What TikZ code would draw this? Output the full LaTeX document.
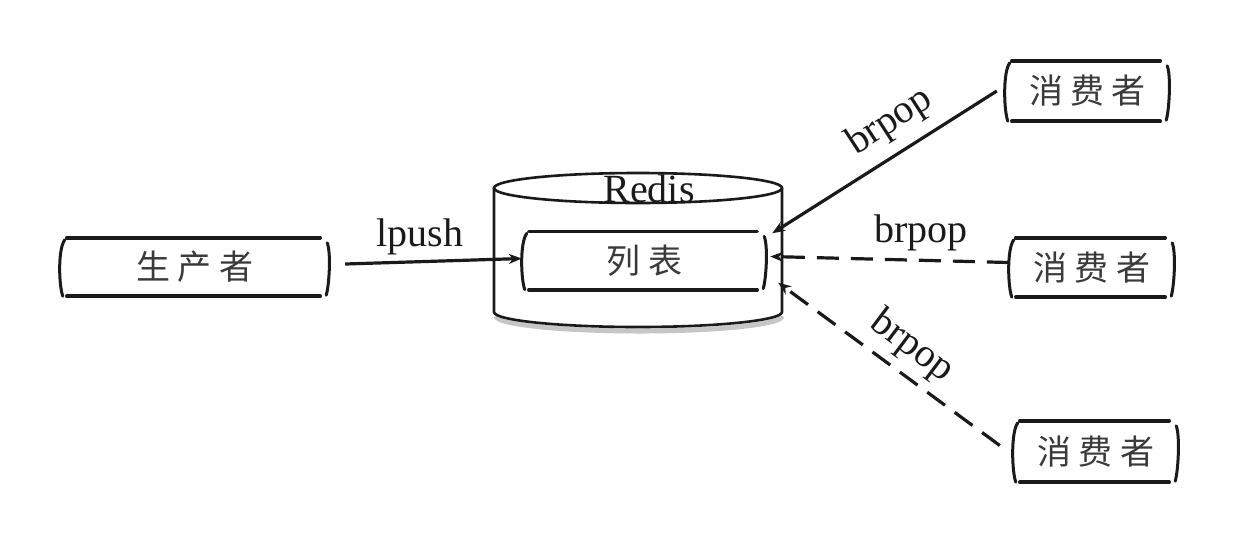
\documentclass[tikz,border=0pt]{standalone}
\usepackage{fontspec}
\newfontfamily\cjk[LetterSpace=22]{Noto Sans CJK SC}
\newfontfamily\latinfont{Liberation Serif}
\usetikzlibrary{arrows.meta}
\definecolor{ink}{HTML}{1A1A1A}
\definecolor{cjkink}{HTML}{3A3A3A}
\tikzset{
  boxline/.style={ink, line width=3.6pt, line cap=round},
  bracket/.style={ink, line width=3pt, line cap=round},
  cylline/.style={ink, line width=2.6pt},
  sbox/.style={draw=none, inner sep=0pt, font=\cjk\fontsize{34}{38}\selectfont, text=cjkink},
  lbl/.style={font=\latinfont\fontsize{40}{44}\selectfont, text=ink, inner sep=0pt},
  conn/.style={ink, line width=3.2pt, -{Stealth[length=13pt,width=10pt]}},
  dconn/.style={conn, dash pattern=on 22pt off 12pt},
}
\newcommand\sketchbox[1]{%
  \draw[boxline] ([xshift=7pt,yshift=-1pt]#1.north west) -- ([xshift=-10pt,yshift=-1pt]#1.north east);
  \draw[boxline] ([xshift=7pt,yshift=1pt]#1.south west) -- ([xshift=-10pt,yshift=1pt]#1.south east);
  \draw[bracket] ([xshift=5pt,yshift=-3pt]#1.north west) .. controls ([xshift=-2pt,yshift=-12pt]#1.north west) and ([xshift=-1pt,yshift=12pt]#1.south west) .. ([xshift=3pt,yshift=1pt]#1.south west);
  \draw[bracket] ([xshift=-3pt,yshift=-6pt]#1.north east) .. controls ([xshift=1pt,yshift=-16pt]#1.north east) and ([xshift=-1pt,yshift=12pt]#1.south east) .. ([xshift=-4pt,yshift=2pt]#1.south east);
}
\begin{document}
\begin{tikzpicture}[x=1pt,y=-1pt]
\useasboundingbox[fill=white] (0,0) rectangle (1258,542);

% cylinder (Redis)
\draw[gray!45, line width=5pt] (496,316) .. controls (496,324.3) and (561,331) .. (640,331) .. controls (719,331) and (782,324.3) .. (782,316);
\fill[white] (494,188) -- (494,312) .. controls (494,320.3) and (559,327) .. (638,327) .. controls (717,327) and (782,320.3) .. (782,312) -- (782,188) -- cycle;
\draw[cylline] (494,188) -- (494,312) .. controls (494,320.3) and (559,327) .. (638,327) .. controls (717,327) and (782,320.3) .. (782,312) -- (782,188);
\draw[cylline] (638,188) ellipse [x radius=144, y radius=15];
\node[lbl, anchor=base] (redislbl) at (649,202) {Redis};

% boxes
\node[sbox, minimum width=270pt, minimum height=60pt] (prod) at (195,267) {生产者};
\node[sbox, minimum width=245pt, minimum height=60pt] (list) at (644.5,260.5) {列表};
\node[sbox, minimum width=165pt, minimum height=62pt] (c1) at (1087.5,91) {消费者};
\node[sbox, minimum width=166pt, minimum height=61pt] (c2) at (1092,267.5) {消费者};
\node[sbox, minimum width=166pt, minimum height=63pt] (c3) at (1096,451.5) {消费者};
\sketchbox{prod}
\sketchbox{list}
\sketchbox{c1}
\sketchbox{c2}
\sketchbox{c3}

% connectors
\draw[conn] ([xshift=15pt,yshift=3pt]prod.east) -- ([yshift=2pt]list.west);
\draw[conn] ([xshift=-8pt]c1.west) -- ([xshift=5pt,yshift=-3pt]list.north east);
\draw[dconn] ([yshift=5pt]c2.west) -- ([xshift=3pt,yshift=4pt]list.east);
\draw[dconn] ([xshift=-13pt,yshift=6pt]c3.west) -- ([xshift=11pt,yshift=8pt]list.south east);

% labels
\node[lbl, anchor=base] (l0) at (420,246) {lpush};
\node[lbl, rotate=33] (l1) at (890,122) {brpop};
\node[lbl, anchor=base] (l2) at (921,242) {brpop};
\node[lbl, rotate=-37] (l3) at (912,347) {brpop};
\end{tikzpicture}
\end{document}
